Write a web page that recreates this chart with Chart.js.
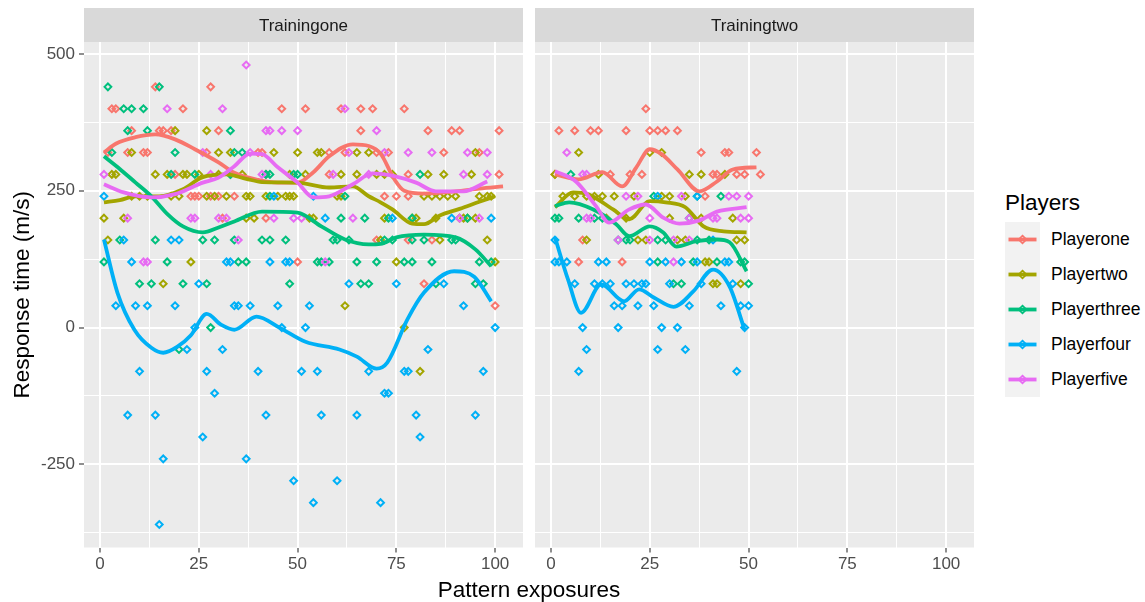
<!DOCTYPE html>
<html>
<head>
<meta charset="utf-8">
<title>Response time by pattern exposures</title>
<script src="https://cdn.jsdelivr.net/npm/chart.js@4.4.1/dist/chart.umd.min.js"></script>
<style>
  html, body { margin: 0; padding: 0; background: #ffffff; }
  #wrap { position: relative; width: 1145px; height: 602px; overflow: hidden;
          font-family: "Liberation Sans", Arial, Helvetica, sans-serif; }
  #cA { position: absolute; left: 0; top: 0; }
  #cB { position: absolute; left: 535px; top: 0; }
  #xtitle { position: absolute; left: 84px; width: 890px; top: 577px; text-align: center;
            font-size: 22.5px; line-height: 26px; color: #000; }
  #legend { position: absolute; left: 1005px; top: 189px; }
  #legend .ttl { font-size: 22.5px; line-height: 28px; color: #000; margin-bottom: 5px; }
  #legend .row { display: flex; align-items: center; height: 35px; }
  #legend .key { width: 35px; height: 35px; background: #F2F2F2; }
  #legend .lab { margin-left: 11px; font-size: 17.5px; color: #000; }
</style>
</head>
<body>
<div id="wrap">
  <canvas id="cA" width="524" height="602"></canvas>
  <canvas id="cB" width="440" height="602"></canvas>
  <div id="xtitle">Pattern exposures</div>
  <div id="legend"></div>
</div>
<script>
// ---- series and labels ----
const players = ['Playerone', 'Playertwo', 'Playerthree', 'Playerfour', 'Playerfive'];
const colors  = ['#F8766D', '#A3A500', '#00BF7D', '#00B0F6', '#E76BF3'];
const facets  = ['Trainingone', 'Trainingtwo'];
const xTicks  = [0, 25, 50, 75, 100];
const xMinor  = [12.5, 37.5, 62.5, 87.5];
const yTicks  = [-250, 0, 250, 500];
const yMinor  = [-375, -125, 125, 375];

// ---- observations, [exposure, response time] ----
const oneT1 = [[14,440],[28,440],
  [3,400],[4,400],[21,400],[46,400],[52,400],[61,400],[66,400],[69,400],[77,400],
  [8,360],[15,360],[16,360],[18,360],[30,360],[66,360],[83,360],[89,360],[91,360],[101,360],
  [2,320],[7,320],[11,320],[12,320],[27,320],[40,320],[41,320],[58,320],[62,320],[70,320],[73,320],[87,320],[96,320],
  [19,280],[42,280],[58,280],[78,280],[101,280],
  [23,240],[24,240],[25,240],[28,240],[30,240],[34,240],[72,240],[75,240],[78,240],
  [31,200],[42,200],[70,160],[78,160],[84,160],[50,120],[82,80],[100,40]];
const twoT1 = [[19,360],[27,360],
  [8,320],[30,320],[33,320],[44,320],[50,320],[55,320],[56,320],[65,320],[68,320],[95,320],
  [3,280],[4,280],[14,280],[17,280],[21,280],[22,280],[25,280],[30,280],[33,280],[36,280],[48,280],[52,280],
  [61,280],[65,280],[70,280],[72,280],[74,280],[83,280],[87,280],[94,280],
  [8,240],[10,240],[12,240],[18,240],[20,240],[27,240],[29,240],[32,240],[37,240],[38,240],[42,240],[45,240],
  [47,240],[48,240],[49,240],[60,240],[61,240],[82,240],[84,240],[86,240],[88,240],[90,240],[96,240],[98,240],[99,240],
  [1,200],[6,200],[37,200],[39,200],[53,200],[54,200],[72,200],[79,200],[80,200],[85,200],[91,200],[92,200],[93,200],[95,200],
  [2,160],[71,160],[86,160],[98,160],[23,120],[75,120],[100,120],[16,80],[62,40],[77,0],[81,-80]];
const threeT1 = [[2,440],[15,440],[6,400],[8,400],[11,400],[7,360],[12,360],[33,360],
  [3,320],[19,320],[34,320],[36,320],
  [18,280],[24,280],[33,280],[42,280],[43,280],[49,280],[50,280],[81,280],
  [43,240],[62,240],[61,200],[67,200],[73,200],[79,200],[93,200],
  [5,160],[14,160],[26,160],[29,160],[34,160],[41,160],[43,160],[47,160],[59,160],[60,160],[63,160],
  [72,160],[74,160],[79,160],[82,160],[89,160],[90,160],
  [1,120],[17,120],[35,120],[37,120],[55,120],[56,120],[58,120],[65,120],[70,120],[77,120],[79,120],[84,120],[96,120],[99,120],
  [10,80],[13,80],[21,80],[27,80],[48,80],[66,80],[68,80],[85,80],[95,80],[97,80],
  [28,0],[20,-40]];
const fourT1 = [[1,240],[44,240],[54,240],[57,200],[74,200],[89,200],[99,200],
  [6,160],[18,160],[20,160],[8,120],[32,120],[33,120],[43,120],[47,120],[48,120],
  [25,80],[63,80],[75,80],[87,80],
  [4,40],[9,40],[12,40],[19,40],[34,40],[35,40],[38,40],[45,40],[53,40],[92,40],
  [24,0],[46,0],[52,0],[100,0],[22,-40],[31,-40],[83,-40],
  [10,-80],[27,-80],[40,-80],[51,-80],[55,-80],[68,-80],[77,-80],[78,-80],[97,-80],
  [29,-120],[72,-120],[73,-120],
  [7,-160],[14,-160],[42,-160],[56,-160],[65,-160],[80,-160],[95,-160],
  [26,-200],[81,-200],[16,-240],[37,-240],[49,-280],[60,-280],[54,-320],[71,-320],[15,-360]];
const fiveT1 = [[37,480],[17,400],[31,400],[62,400],
  [42,360],[43,360],[46,360],[50,360],[70,360],
  [26,320],[38,320],[63,320],[72,320],[78,320],[84,320],[93,320],[98,320],
  [1,280],[28,280],[41,280],[59,280],[68,280],[92,280],[98,280],
  [7,200],[23,200],[24,200],[30,200],[32,200],[44,200],[49,200],[51,200],[64,200],[91,200],[96,200],
  [35,160],[11,120],[12,120],[57,120]];

const oneT2 = [[24,400],[2,360],[6,360],[10,360],[12,360],[19,360],[25,360],[27,360],[29,360],[32,360],
  [38,320],[44,320],[45,320],[52,320],
  [1,280],[15,280],[20,280],[23,280],[41,280],[42,280],[47,280],[49,280],[53,280],
  [39,240],[8,160],[7,120],[18,120]];
const twoT2 = [[7,320],[25,320],[28,320],[1,280],[12,280],[35,280],[38,280],[44,280],
  [3,240],[6,240],[9,240],[11,240],[13,240],[16,240],[21,240],[28,240],[30,240],[34,240],
  [14,200],[19,200],[30,200],[38,200],[46,200],
  [9,160],[22,160],[24,160],[32,160],[34,160],[47,160],[49,160],
  [39,120],[40,120],[41,80],[42,80],[48,80]];
const threeT2 = [[5,280],[26,240],[37,240],[43,240],
  [1,200],[2,200],[7,200],[11,200],[13,200],[35,200],
  [17,160],[19,160],[20,160],[27,160],[29,160],[37,160],[40,160],
  [27,120],[36,120],[42,120],[48,120],[49,120],[31,80],[33,80],[50,80]];
const fourT2 = [[27,240],[37,240],[1,160],[41,160],
  [1,120],[2,120],[4,120],[12,120],[14,120],[25,120],[29,120],[33,120],[37,120],[44,120],[45,120],
  [6,80],[11,80],[13,80],[15,80],[19,80],[21,80],[23,80],[24,80],[30,80],[38,80],[46,80],
  [16,40],[18,40],[22,40],[26,40],[35,40],[43,40],[48,40],[50,40],
  [8,0],[17,0],[28,0],[32,0],[49,0],[9,-40],[27,-40],[34,-40],[7,-80],[47,-80]];
const fiveT2 = [[4,320],[8,280],[9,280],
  [19,240],[22,240],[33,240],[45,240],[47,240],[50,240],
  [9,200],[10,200],[25,200],[35,200],[41,200],[42,200],[48,200],[50,200],
  [17,160],[25,160],[31,160],[35,160],[31,120]];

// ---- smoothed trends ----
const oneFitT1 = [[1,320],[4,336],[9,348],[14,353],[19,344],[24,326],[30,302],[34,283],[40,270],[45,265],[50,265],
  [54,284],[58,313],[64,335],[68,332],[71,318],[74.5,271],[77,250],[82,245],[90,249],[96,254],[102,258]];
const twoFitT1 = [[1,229],[5,233],[9,240],[15,240],[21,253],[26,275],[32,280],[37,272],[41,266],[50,265],
  [58,256],[64,258],[68,240],[71,229],[74,216],[79,190],[82,189],[86,205],[91,217],[96,230],[100,240]];
const threeFitT1 = [[1,313],[5,290],[9,265],[13,240],[17,208],[21,185],[26,174],[30,183],[34,194],[41,212],
  [50,210],[56,185],[62,161],[68,152],[71,153],[75,165],[82,170],[90,165],[95,143],[99,112]];
const fourFitT1 = [[1,161],[4.4,64],[8.7,-4],[13,-37],[16,-46],[19.6,-35],[23,-14],[27,25],[30.7,5],[34,-4],
  [39.6,20],[45.4,0],[52,-26],[60.6,-40],[65,-53],[70,-75],[72.7,-64],[77.8,15],[82,64],[89.6,103],[94.7,93],[99,48]];
const fiveFitT1 = [[1,262],[6,247],[13,238],[19,244],[26,265],[30,274],[34,295],[38,318],[41,317],[45,293],
  [50,265],[54,238],[58,240],[64,262],[69,282],[74.5,277],[80,265],[85,249],[92,249],[98,267]];

const oneFitT2 = [[1,280],[7,271],[13,284],[18,258],[21.6,293],[25,326],[28,317],[32,289],[37.6,249],[42,267],[46,289],[52,293]];
const twoFitT2 = [[1,220],[5.6,247],[9.6,243],[15.7,216],[19.8,198],[25,231],[29,229],[34,220],[38.6,185],[43.7,176],[49.5,174]];
const threeFitT2 = [[1,222],[4.6,229],[10.7,216],[16.5,189],[19.8,167],[25,185],[28.4,174],[31.7,148],[36.8,158],[42,161],[45.2,156],[49.5,103]];
const fourFitT2 = [[1,165],[4.3,88],[7.6,27],[12.7,79],[18.5,48],[22.3,70],[26,55],[31,38],[36,66],[41,106],[45.2,75],[49,-4]];
const fiveFitT2 = [[1,286],[6.3,267],[11.4,222],[14.7,192],[19.8,216],[24,225],[28.4,201],[32.5,190],[37.6,196],[42,212],[49.5,220]];

const pointsByFacet = [[oneT1, twoT1, threeT1, fourT1, fiveT1], [oneT2, twoT2, threeT2, fourT2, fiveT2]];
const fitsByFacet   = [[oneFitT1, twoFitT1, threeFitT1, fourFitT1, fiveFitT1], [oneFitT2, twoFitT2, threeFitT2, fourFitT2, fiveFitT2]];

// ---- drawing ----
const FONT = '"Liberation Sans", Arial, Helvetica, sans-serif';
const toXY = arr => arr.map(([x, y]) => ({ x, y }));

// panel background and facet strip
const facetStrip = {
  id: 'facetStrip',
  beforeDraw(chart, args, opts) {
    const { ctx, chartArea: a } = chart;
    ctx.save();
    ctx.fillStyle = '#EBEBEB';
    ctx.fillRect(a.left, a.top, a.right - a.left, a.bottom - a.top);
    ctx.fillStyle = '#D9D9D9';
    ctx.fillRect(a.left, 8, a.right - a.left, a.top - 8);
    ctx.fillStyle = '#1A1A1A';
    ctx.font = '17px ' + FONT;
    ctx.textAlign = 'center';
    ctx.textBaseline = 'middle';
    ctx.fillText(opts.label, (a.left + a.right) / 2, (8 + a.top) / 2 + 1);
    ctx.restore();
  }
};

function buildDatasets(f) {
  const sets = [];
  players.forEach((p, i) => {
    sets.push({
      label: p,
      data: toXY(pointsByFacet[f][i]),
      showLine: false,
      pointStyle: 'rectRot',
      pointRadius: 3.4,
      pointBorderWidth: 2,
      pointBackgroundColor: 'rgba(0,0,0,0)',
      pointBorderColor: colors[i],
      order: 20 + (players.length - i)
    });
  });
  players.forEach((p, i) => {
    sets.push({
      label: p + ' trend',
      data: toXY(fitsByFacet[f][i]),
      showLine: true,
      borderColor: colors[i],
      borderWidth: 3.8,
      pointRadius: 0,
      cubicInterpolationMode: 'monotone',
      fill: false,
      order: players.length - i
    });
  });
  return sets;
}

const isMajorX = v => xTicks.includes(v);
const isMajorY = v => yTicks.includes(v);

function xScale() {
  return {
    type: 'linear', min: -4.05, max: 107.05,
    afterBuildTicks: s => { s.ticks = [...xTicks, ...xMinor].sort((a, b) => a - b).map(v => ({ value: v })); },
    afterFit: s => { s.height = 54.5; s.paddingLeft = 0; s.paddingRight = 0; },
    ticks: { autoSkip: false, maxRotation: 0, padding: 2, color: '#4D4D4D',
             font: { size: 17, family: FONT },
             callback: v => isMajorX(v) ? String(v) : '' },
    grid: { color: '#FFFFFF',
            lineWidth: c => (c.tick && isMajorX(c.tick.value)) ? 2 : 1,
            tickColor: c => (c.tick && isMajorX(c.tick.value)) ? '#333333' : 'rgba(0,0,0,0)',
            tickLength: 5, tickWidth: 1.1 },
    border: { display: false }
  };
}

function yScale(withLabels) {
  const s = {
    type: 'linear', min: -402, max: 522,
    afterBuildTicks: sc => { sc.ticks = [...yTicks, ...yMinor].sort((a, b) => a - b).map(v => ({ value: v })); },
    afterFit: sc => { sc.width = withLabels ? 84 : 0; sc.paddingTop = 0; sc.paddingBottom = 0; },
    ticks: { display: withLabels, autoSkip: false, padding: 4, color: '#4D4D4D',
             font: { size: 17, family: FONT },
             callback: v => isMajorY(v) ? String(v) : '' },
    grid: { color: '#FFFFFF',
            lineWidth: c => (c.tick && isMajorY(c.tick.value)) ? 2 : 1,
            drawTicks: withLabels,
            tickColor: c => (c.tick && isMajorY(c.tick.value)) ? '#333333' : 'rgba(0,0,0,0)',
            tickLength: 5, tickWidth: 1.1 },
    border: { display: false }
  };
  if (withLabels) {
    s.title = { display: true, text: 'Response time (m/s)', color: '#000000',
                font: { size: 22.5, family: FONT }, padding: { top: 9, bottom: 0 } };
  }
  return s;
}

function makeChart(id, f, withY) {
  return new Chart(document.getElementById(id), {
    type: 'scatter',
    data: { datasets: buildDatasets(f) },
    options: {
      responsive: false, animation: false, devicePixelRatio: 1, events: [],
      layout: { autoPadding: false, padding: { top: 42, right: 1, left: 0, bottom: 0 } },
      scales: { x: xScale(), y: yScale(withY) },
      plugins: { legend: { display: false }, tooltip: { enabled: false },
                 facetStrip: { label: facets[f] } }
    },
    plugins: [facetStrip]
  });
}

makeChart('cA', 0, true);
makeChart('cB', 1, false);

// legend
const lg = document.getElementById('legend');
const ttl = document.createElement('div');
ttl.className = 'ttl';
ttl.textContent = 'Players';
lg.appendChild(ttl);
players.forEach((p, i) => {
  const row = document.createElement('div');
  row.className = 'row';
  row.innerHTML =
    '<svg class="key" width="35" height="35" viewBox="0 0 35 35">' +
    '<rect width="35" height="35" fill="#F2F2F2"/>' +
    '<line x1="3.5" y1="17.5" x2="31.5" y2="17.5" stroke="' + colors[i] + '" stroke-width="3.8"/>' +
    '<path d="M17.5 13.6 L21.4 17.5 L17.5 21.4 L13.6 17.5 Z" fill="none" stroke="' + colors[i] + '" stroke-width="1.7"/>' +
    '</svg><span class="lab">' + p + '</span>';
  lg.appendChild(row);
});
</script>
</body>
</html>
